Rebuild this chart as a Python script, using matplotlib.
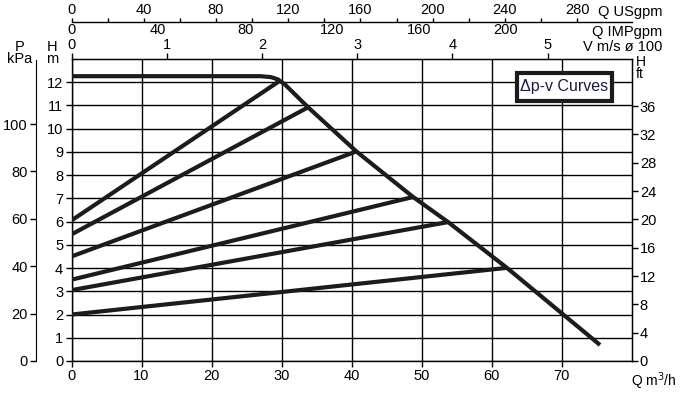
#Delta p-v pump curves

import numpy as np
import matplotlib.pyplot as plt
from matplotlib.patches import Rectangle

plt.rcParams['font.family'] = ['Liberation Sans Narrow', 'Liberation Sans', 'DejaVu Sans']
plt.rcParams['font.size'] = 10.5

#Max curve (Q m3/h, H m)
q_max = [0, 27.0, 28.5, 29.5, 30.5, 33.8, 40.7, 48.8, 53.8, 62.2, 75.5]
h_max = [12.26, 12.26, 12.22, 12.12, 11.9, 10.92, 9.02, 7.06, 5.98, 4.01, 0.69]

#Delta p-v lines: start head at Q=0 and end point on the max curve
h_start = [6.05, 5.45, 4.5, 3.5, 3.05, 2.0]
q_end = [29.8, 33.8, 40.7, 48.8, 53.8, 62.2]
h_end = [12.07, 10.92, 9.02, 7.06, 5.98, 4.01]

#Axis ticks
q_ticks = [0, 10, 20, 30, 40, 50, 60, 70]
h_ticks = list(range(0, 13))
kpa_ticks = [0, 20, 40, 60, 80, 100]
ft_ticks = list(range(0, 37, 4))
v_ticks = [0, 1, 2, 3, 4, 5]
imp_ticks = [0, 40, 80, 120, 160, 200]
us_ticks = list(range(0, 281, 40))
us_minor = list(range(20, 281, 40))

#conversions to m3/h and m
M_PER_KPA = 0.101972
M_PER_FT = 0.3048
Q_PER_V = 13.6
Q_PER_IMP = 0.31
Q_PER_US = 0.258

W, H = 689, 393
fig = plt.figure(figsize=(W / 100, H / 100), dpi=100)
x0, x1, y0, y1 = 71.5, 631.5, 361, 59
ax = fig.add_axes([x0 / W, 1 - y0 / H, (x1 - x0) / W, (y0 - y1) / H])

ax.set_xlim(0, 80)
ax.set_ylim(0, 13)
ax.set_xticks(q_ticks)
ax.set_yticks(h_ticks)
ax.grid(color='black', lw=1)
ax.tick_params(direction='out', length=4, width=1, pad=2, colors='black')
for s in ax.spines.values():
    s.set_linewidth(1)
ax.set_axisbelow(True)

#curves
ink = '#1c1c1c'
ax.plot(q_max, h_max, color=ink, lw=3, solid_joinstyle='round', solid_capstyle='butt', zorder=3)
for hs, qe, he in zip(h_start, q_end, h_end):
    ax.plot([0, qe], [hs, he], color=ink, lw=3, solid_capstyle='butt', zorder=3)

#right axis in ft
ax_ft = ax.twinx()
ax_ft.set_ylim(0, 13 / M_PER_FT)
ax_ft.set_yticks(ft_ticks)
ax_ft.tick_params(direction='out', length=4, width=1, pad=2)
for k in ['top', 'bottom', 'left']:
    ax_ft.spines[k].set_visible(False)

#left axis in kPa
ax_p = ax.twinx()
ax_p.set_ylim(0, 13 / M_PER_KPA)
ax_p.yaxis.set_ticks_position('left')
ax_p.yaxis.set_label_position('left')
ax_p.set_yticks(kpa_ticks)
ax_p.tick_params(direction='out', length=4, width=1, pad=2)
for k in ['top', 'bottom', 'right']:
    ax_p.spines[k].set_visible(False)
ax_p.spines['left'].set_position(('axes', (36 - x0) / (x1 - x0)))
ax_p.spines['left'].set_bounds(0, 127)

#top axes
ax_v = ax.secondary_xaxis('top', functions=(lambda q: q / Q_PER_V, lambda v: v * Q_PER_V))
ax_v.set_xticks(v_ticks)
ax_v.tick_params(direction='out', length=4, width=1, pad=1)

def loc(ypx):
    return (y0 - ypx) / (y0 - y1)

ax_imp = ax.secondary_xaxis(loc(40), functions=(lambda q: q / Q_PER_IMP, lambda g: g * Q_PER_IMP))
ax_imp.set_xticks(imp_ticks)
ax_imp.tick_params(length=0, pad=2)
ax_imp.spines['top'].set_visible(False)

ax_us = ax.secondary_xaxis(loc(22.3), functions=(lambda q: q / Q_PER_US, lambda g: g * Q_PER_US))
ax_us.set_xticks(us_ticks)
ax_us.set_xticks(us_minor, minor=True)
ax_us.tick_params(which='both', direction='out', length=3, width=1, pad=0.5)
ax_us.spines['top'].set_linewidth(1)

#axis titles
fig.text(662 / W, 1 - 12 / H, 'Q USgpm', ha='right', va='center')
fig.text(662 / W, 1 - 32 / H, 'Q IMPgpm', ha='right', va='center')
fig.text(662 / W, 1 - 47 / H, 'V m/s ø 100', ha='right', va='center')
fig.text(677 / W, 1 - 381 / H, 'Q m$^3$/h', ha='right', va='center', fontsize=10)
fig.text(20 / W, 1 - 53 / H, 'P\nkPa', ha='center', va='center', linespacing=0.8)
fig.text(52 / W, 1 - 53 / H, 'H\nm', ha='center', va='center', linespacing=0.8)
fig.text(636 / W, 1 - 68 / H, 'H\nft', ha='left', va='center', linespacing=0.8, fontsize=10)

#legend box
fig.patches.append(Rectangle((517 / W, 1 - 101 / H), 95 / W, 28 / H, transform=fig.transFigure,
                             fill=True, facecolor='white', edgecolor=ink, lw=3, zorder=5))
fig.text(564.5 / W, 1 - 87 / H, 'Δp-v Curves', ha='center', va='center', fontsize=11.5, color='#1a1a40', zorder=6)

plt.savefig('out.png', dpi=100)
